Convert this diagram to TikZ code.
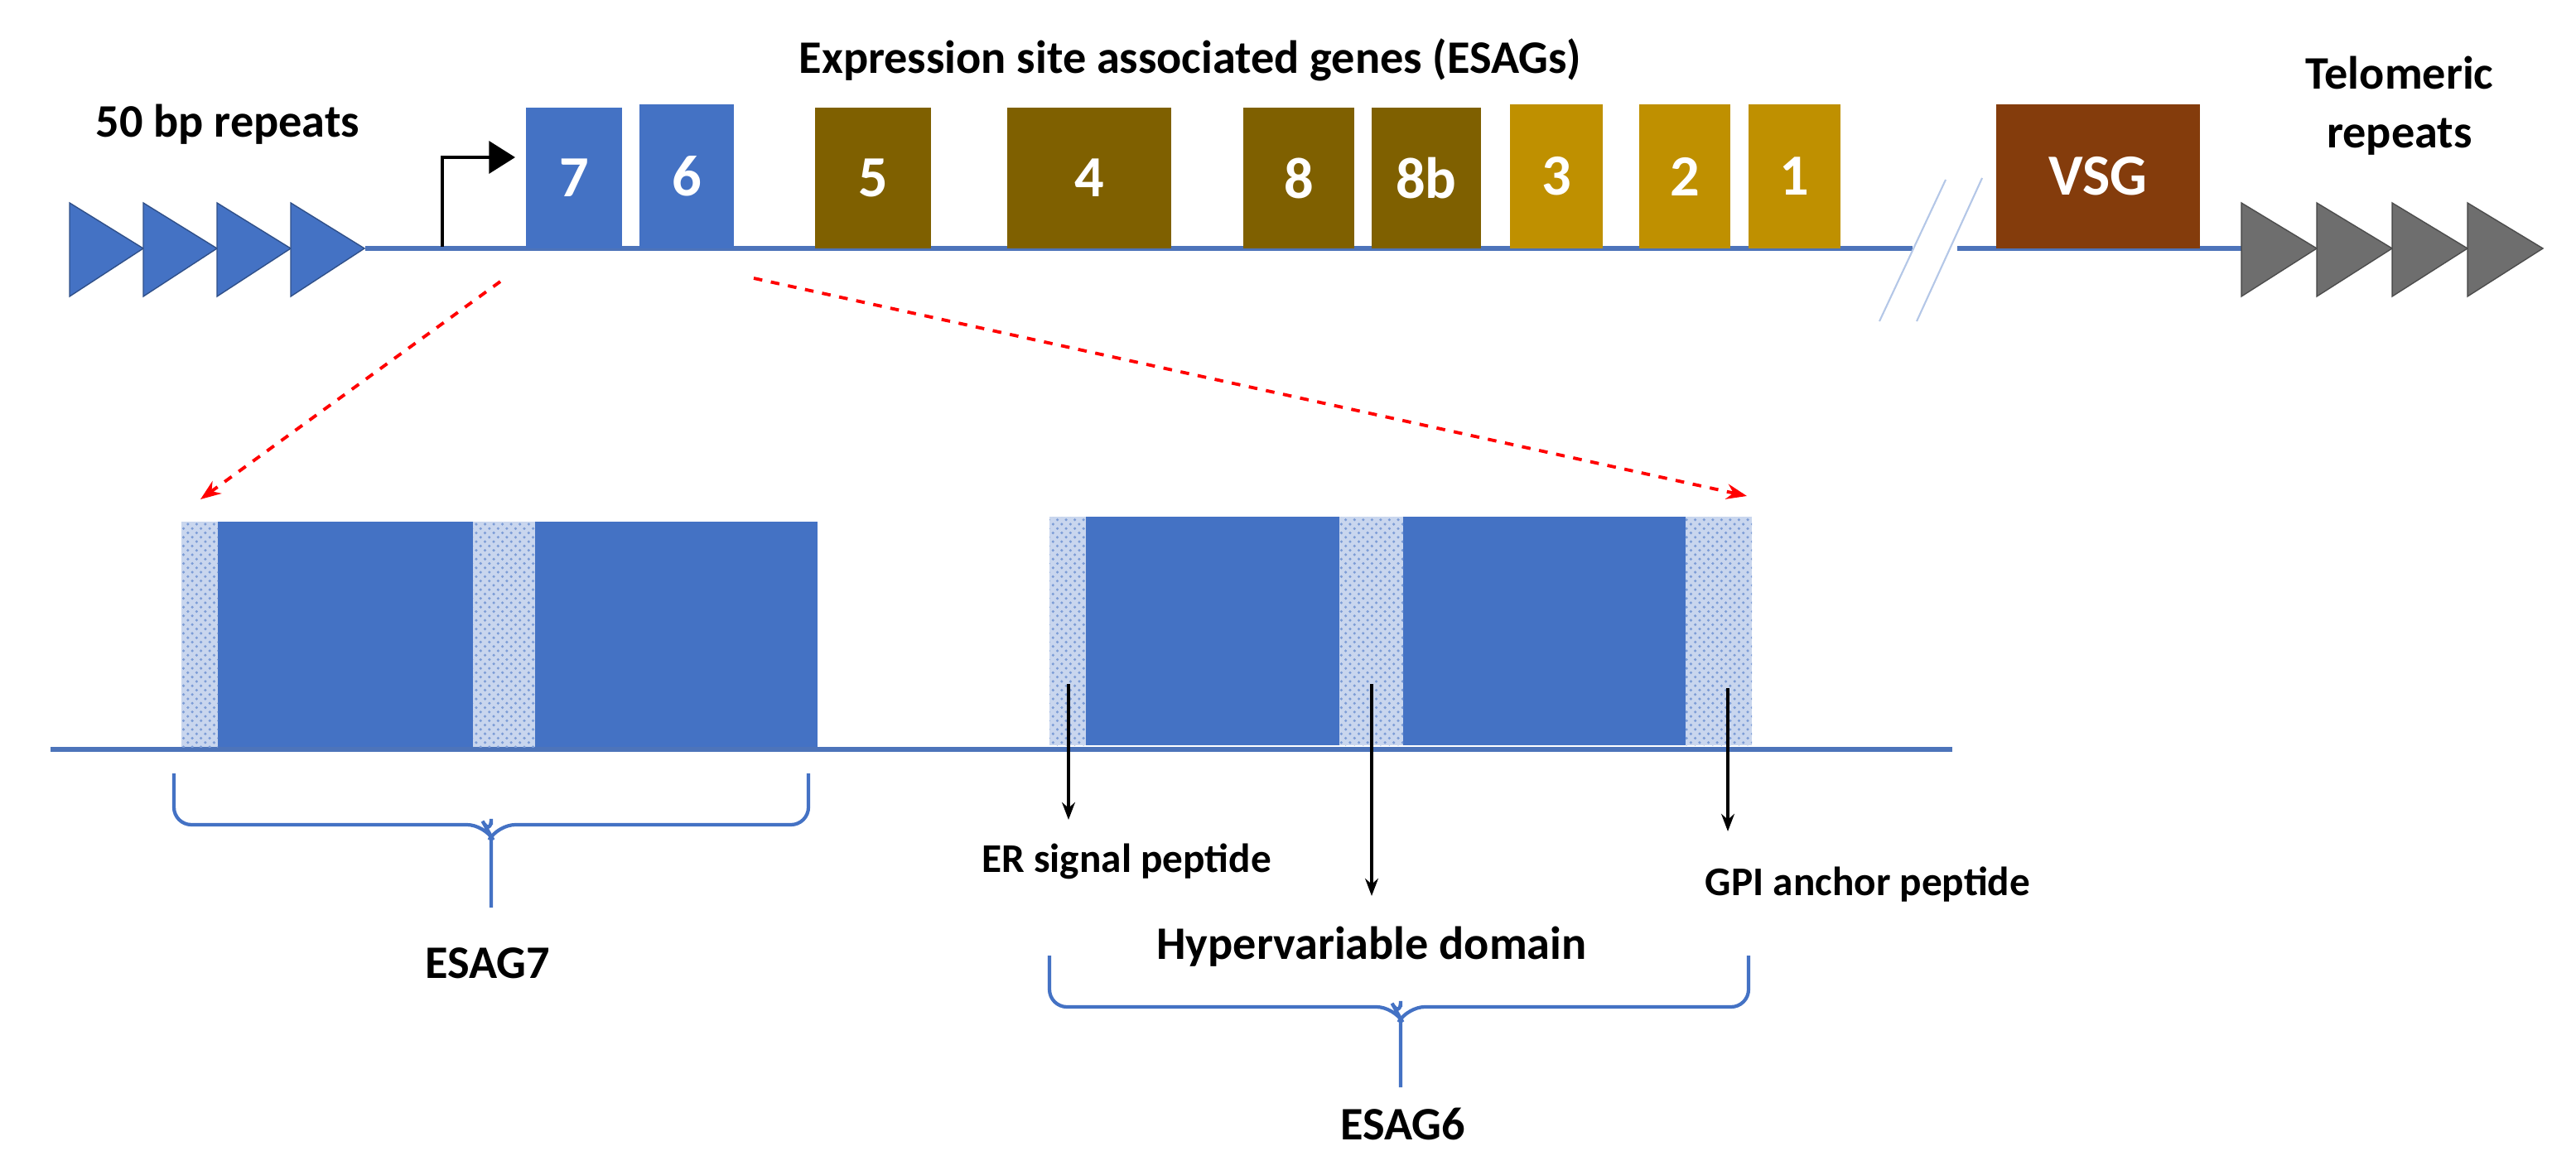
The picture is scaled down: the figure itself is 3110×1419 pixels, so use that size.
\documentclass[tikz,border=0pt]{standalone}
\usepackage{fontspec}
\setmainfont{Carlito}
\usetikzlibrary{patterns,arrows.meta}
\definecolor{gblue}{HTML}{4472C4}
\definecolor{lblue}{HTML}{C9D6EE}
\definecolor{olive}{HTML}{7F6000}
\definecolor{gold}{HTML}{BF9000}
\definecolor{rust}{HTML}{843C0C}
\definecolor{tgrey}{HTML}{6E6E6E}
\begin{document}
\begin{tikzpicture}[x=0.01cm,y=-0.01cm,
  box/.style={draw=none,inner sep=0,text=white,font=\bfseries\fontsize{20}{24}\selectfont},
  lbl/.style={inner sep=0,font=\bfseries\fontsize{16}{19}\selectfont},
  sml/.style={inner sep=0,font=\bfseries\fontsize{14}{17}\selectfont},
  gline/.style={draw=gblue!85!gray,line width=1.8pt},
  tri/.style={fill=#1,draw=#1!70!black,line width=0.4pt},
  hatch/.style={fill=lblue,postaction={pattern=crosshatch dots,pattern color=gblue!70}},
  brace/.style={draw=gblue,line width=1.2pt,rounded corners=6pt},
  red/.style={draw=red,dashed,line width=1.1pt,-{Stealth[length=7pt]}},
  pin/.style={draw=black,line width=0.9pt,-{Stealth[length=6pt]}}]
\useasboundingbox (0,0) rectangle (3110,1419);
% main line
\coordinate (L0) at (441,300); \coordinate (L1) at (2309,300);
\coordinate (L2) at (2363,300); \coordinate (L3) at (2706,300);
\draw[gline] (L0) -- (L1);
\draw[gline] (L2) -- (L3);
\coordinate (s1a) at (2349,217); \coordinate (s1b) at (2269,388);
\coordinate (s2a) at (2393,215); \coordinate (s2b) at (2314,388);
\draw[gblue!40,line width=0.6pt] (s1a) -- (s1b) (s2a) -- (s2b);
% triangles
\foreach \i in {0,1,2,3}{
  \path[tri=gblue] (84+\i*89,245) -- (173+\i*89,300) -- (84+\i*89,358) -- cycle;
  \path[tri=tgrey] (2706+\i*91,245) -- (2797+\i*91,300) -- (2706+\i*91,358) -- cycle;}
% labels
\node[lbl] (title) at (1437,72) {Expression site associated genes (ESAGs)};
\node[lbl] (rep50) at (275,150) {50 bp repeats};
\node[lbl] (tel1) at (2897,88) {Telomeric};
\node[lbl] (tel2) at (2897,165) {repeats};
% promoter
\coordinate (p0) at (534,298); \coordinate (p1) at (534,190); \coordinate (p2) at (622,190);
\draw[line width=1.3pt,-{Triangle[length=9pt,width=11pt]}] (p0) -- (p1) -- (p2);
% boxes
\node[box,fill=gblue,minimum width=116\pgflinewidth*0+1.16cm,minimum height=1.70cm] (g7) at (693,215) {7};
\node[box,fill=gblue,minimum width=1.14cm,minimum height=1.73cm] (g6) at (829,213) {6};
\node[box,fill=olive,minimum width=1.39cm,minimum height=1.70cm] (g5) at (1054,215) {5};
\node[box,fill=olive,minimum width=1.97cm,minimum height=1.70cm] (g4) at (1315,215) {4};
\node[box,fill=olive,minimum width=1.33cm,minimum height=1.70cm] (g8) at (1568,215) {8};
\node[box,fill=olive,minimum width=1.31cm,minimum height=1.70cm] (g8b) at (1722,215) {8b};
\node[box,fill=gold,minimum width=1.12cm,minimum height=1.73cm] (g3) at (1879,213) {3};
\node[box,fill=gold,minimum width=1.10cm,minimum height=1.73cm] (g2) at (2034,213) {2};
\node[box,fill=gold,minimum width=1.11cm,minimum height=1.73cm] (g1) at (2166,213) {1};
\node[box,fill=rust,minimum width=2.46cm,minimum height=1.73cm] (vsg) at (2533,213) {VSG};
% lower line
\coordinate (B0) at (61,905); \coordinate (B1) at (2357,905);
\draw[gline] (B0) -- (B1);
% ESAG7 exon
\node[draw=none,fill=gblue,inner sep=0,minimum width=7.68cm,minimum height=2.72cm] (e7) at (603,766) {};
\path[hatch] (219,630) rectangle (263,902);
\path[hatch] (571,630) rectangle (646,902);
% ESAG6 exon
\node[draw=none,fill=gblue,inner sep=0,minimum width=8.48cm,minimum height=2.76cm] (e6) at (1691,762) {};
\path[hatch] (1267,624) rectangle (1311,900);
\path[hatch] (1617,624) rectangle (1694,900);
\path[hatch] (2035,624) rectangle (2115,900);
% red dashed arrows
\coordinate (r0) at (604,340); \coordinate (r1) at (242,603);
\coordinate (r2) at (910,336); \coordinate (r3) at (2109,599);
\draw[red] (r0) -- (r1);
\draw[red] (r2) -- (r3);
% pins
\coordinate (a0) at (1290,826); \coordinate (a1) at (1290,990);
\coordinate (b0) at (1656,826); \coordinate (b1) at (1656,1082);
\coordinate (c0) at (2086,831); \coordinate (c1) at (2086,1004);
\draw[pin] (a0) -- (a1);
\draw[pin] (b0) -- (b1);
\draw[pin] (c0) -- (c1);
\node[sml] (er) at (1360,1040) {ER signal peptide};
\node[sml] (gpi) at (2255,1068) {GPI anchor peptide};
\node[lbl] (hyp) at (1656,1143) {Hypervariable domain};
% braces
\draw[brace] (210,934) -- (210,996) -- (585,996) -- (593,1010) -- (593,996) (593,1010) -- (593,1096);
\draw[brace] (976,934) -- (976,996) -- (601,996) -- (593,1010);
\draw[brace] (1267,1154) -- (1267,1216) -- (1683,1216) -- (1691,1230) -- (1691,1216) (1691,1230) -- (1691,1313);
\draw[brace] (2111,1154) -- (2111,1216) -- (1699,1216) -- (1691,1230);
\node[lbl] (esag7) at (589,1163) {ESAG7};
\node[lbl] (esag6) at (1694,1357) {ESAG6};
\end{tikzpicture}
\end{document}
